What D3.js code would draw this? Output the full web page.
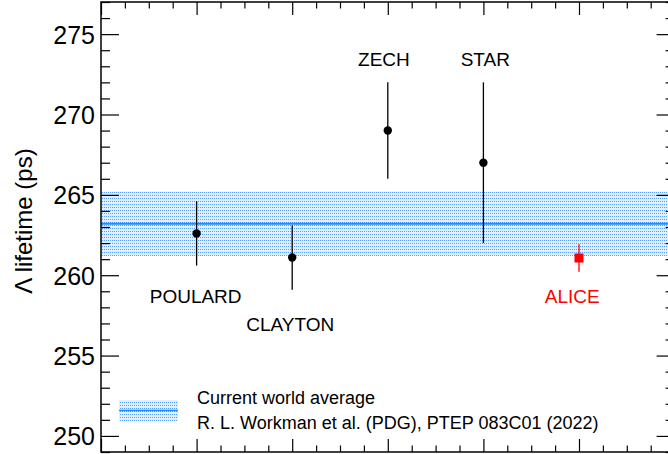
<!DOCTYPE html>
<html>
<head>
<meta charset="utf-8">
<script src="https://cdn.jsdelivr.net/npm/d3@7"></script>
<style>
  html, body { margin: 0; padding: 0; background: #fff; }
  svg { display: block; font-family: "Liberation Sans", Arial, sans-serif; }
</style>
</head>
<body>
<div id="chart"></div>
<script>
// measurements (ps)
const experiments = ['POULARD', 'CLAYTON', 'ZECH', 'STAR', 'ALICE'];
const positions = [1, 2, 3, 4, 5];
const lifetimes = [262.6, 261.1, 269.0, 267.0, 261.07];
const errors = [2.0, 2.0, 3.0, 5.0, 0.85];
const labelX = [0.99, 1.98, 2.96, 4.02, 4.93];
const labelY = [258.27, 256.53, 273.0, 273.0, 258.27];
// PDG world average
const worldAvg = 263.2;
const worldErr = 2.0;
const yMajorTicks = [250, 255, 260, 265, 270, 275];
const legendLines = ['Current world average', 'R. L. Workman et al. (PDG), PTEP 083C01 (2022)'];

const width = 668, height = 454;
const svg = d3.select('#chart').append('svg').attr('width', width).attr('height', height);

const x = d3.scaleLinear().domain([0, 6]).range([101, 674.6]);
const y = d3.scaleLinear().domain([249, 277]).range([452, 2]);

// dotted band fill
const defs = svg.append('defs');
const pat = defs.append('pattern').attr('id', 'dots').attr('patternUnits', 'userSpaceOnUse')
    .attr('width', 2).attr('height', 3);
pat.append('rect').attr('width', 2).attr('height', 3).attr('fill', '#e3eeff');
pat.append('rect').attr('width', 1).attr('height', 1).attr('fill', '#4da0ff');
defs.append('clipPath').attr('id', 'plotclip').append('rect')
    .attr('x', 101).attr('y', 2).attr('width', 574).attr('height', 450);

const plot = svg.append('g').attr('clip-path', 'url(#plotclip)');
plot.append('rect')
    .attr('x', x(0)).attr('width', x(6) - x(0))
    .attr('y', y(worldAvg + worldErr)).attr('height', y(worldAvg - worldErr) - y(worldAvg + worldErr))
    .attr('fill', 'url(#dots)');
plot.append('line')
    .attr('x1', x(0)).attr('x2', x(6)).attr('y1', y(worldAvg)).attr('y2', y(worldAvg))
    .attr('stroke', '#1f8dff').attr('stroke-width', 2);

// axes with inward ticks
const yMinor = d3.range(249, 278).filter(v => !yMajorTicks.includes(v));
const xMajor = d3.range(0, 7);
const xMinor = d3.range(0, 6.01, 0.25).filter(v => v % 1 !== 0);
function styleAxis(g) {
    g.select('.domain').remove();
    g.selectAll('.tick line').attr('stroke', '#000').attr('stroke-width', 1.2);
}
svg.append('g').attr('transform', 'translate(101,0)')
    .call(d3.axisLeft(y).tickValues(yMajorTicks).tickSizeInner(-18).tickSizeOuter(0).tickPadding(6))
    .call(styleAxis)
    .call(g => g.selectAll('.tick text').attr('font-size', 25).attr('fill', '#000')
        .attr('font-family', '"Liberation Sans", Arial, sans-serif').attr('dy', '0.36em'));
svg.append('g').attr('transform', 'translate(101,0)')
    .call(d3.axisLeft(y).tickValues(yMinor).tickSizeInner(-9).tickSizeOuter(0).tickFormat(''))
    .call(styleAxis);
svg.append('g').attr('transform', 'translate(674.6,0)')
    .call(d3.axisRight(y).tickValues(yMajorTicks).tickSizeInner(-18).tickSizeOuter(0).tickFormat(''))
    .call(styleAxis);
svg.append('g').attr('transform', 'translate(674.6,0)')
    .call(d3.axisRight(y).tickValues(yMinor).tickSizeInner(-9).tickSizeOuter(0).tickFormat(''))
    .call(styleAxis);
[[452, d3.axisBottom], [2, d3.axisTop]].forEach(([ty, ax]) => {
    svg.append('g').attr('transform', `translate(0,${ty})`)
        .call(ax(x).tickValues(xMajor).tickSizeInner(-13).tickSizeOuter(0).tickFormat(''))
        .call(styleAxis);
    svg.append('g').attr('transform', `translate(0,${ty})`)
        .call(ax(x).tickValues(xMinor).tickSizeInner(-6.5).tickSizeOuter(0).tickFormat(''))
        .call(styleAxis);
});
svg.append('rect').attr('x', 101).attr('y', 2).attr('width', 573.6).attr('height', 450)
    .attr('fill', 'none').attr('stroke', '#000').attr('stroke-width', 1.5);

// y title
svg.append('text').attr('transform', `translate(32,${(y(249) + y(277)) / 2 - 6}) rotate(-90)`)
    .attr('text-anchor', 'middle').attr('font-size', 24).text('\u039B lifetime (ps)');

// measurements
const data = experiments.map((name, i) => ({
    name, pos: positions[i], val: lifetimes[i], err: errors[i],
    lx: labelX[i], ly: labelY[i], color: name === 'ALICE' ? '#ff0000' : '#000'
}));
const pts = svg.append('g');
pts.selectAll('line.err').data(data).join('line').attr('class', 'err')
    .attr('x1', d => x(d.pos)).attr('x2', d => x(d.pos))
    .attr('y1', d => y(d.val - d.err)).attr('y2', d => y(d.val + d.err))
    .attr('stroke', d => d.color).attr('stroke-width', 1.3);
pts.selectAll('circle').data(data.filter(d => d.name !== 'ALICE')).join('circle')
    .attr('cx', d => x(d.pos)).attr('cy', d => y(d.val)).attr('r', 4.2).attr('fill', '#000');
pts.selectAll('rect').data(data.filter(d => d.name === 'ALICE')).join('rect')
    .attr('x', d => x(d.pos) - 4.5).attr('y', d => y(d.val) - 4.5)
    .attr('width', 9).attr('height', 9).attr('fill', '#ff0000');
pts.selectAll('text').data(data).join('text')
    .attr('x', d => x(d.lx)).attr('y', d => y(d.ly))
    .attr('text-anchor', 'middle').attr('font-size', 19).attr('fill', d => d.color)
    .text(d => d.name);

// legend
const lg = svg.append('g');
lg.append('rect').attr('x', 119).attr('y', 400).attr('width', 59).attr('height', 21).attr('fill', 'url(#dots)');
lg.append('line').attr('x1', 119).attr('x2', 178).attr('y1', 410.5).attr('y2', 410.5)
    .attr('stroke', '#1f8dff').attr('stroke-width', 1.5);
lg.selectAll('text').data(legendLines).join('text')
    .attr('x', 197).attr('y', (d, i) => 403.5 + i * 25).attr('font-size', 18).text(d => d);
</script>
</body>
</html>
